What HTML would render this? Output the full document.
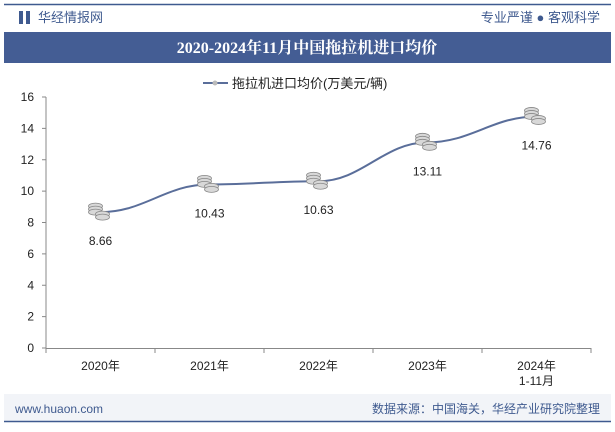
<!DOCTYPE html>
<html><head><meta charset="utf-8"><style>
body{margin:0;width:615px;height:427px;background:#fff;overflow:hidden;font-family:"Liberation Sans","Noto Sans CJK SC",sans-serif}
</style></head><body>
<svg width="615" height="427" xmlns="http://www.w3.org/2000/svg">
<line x1="4" y1="4.5" x2="611" y2="4.5" stroke="#3f5a8f" stroke-width="1.5"/>
<rect x="19" y="11" width="4" height="13" fill="#3f5a8f"/>
<rect x="26" y="11" width="4" height="13" fill="#3f5a8f"/>
<text x="38" y="22" font-size="13" fill="#3f5a8f">华经情报网</text>
<text x="600" y="22" font-size="13" fill="#3f5a8f" text-anchor="end">专业严谨 ● 客观科学</text>
<rect x="4" y="32" width="607" height="31" fill="#445d94"/>
<text x="307" y="53" font-size="16" font-weight="bold" fill="#fff" text-anchor="middle" font-family="Liberation Serif,Noto Serif CJK SC,serif">2020-2024年11月中国拖拉机进口均价</text>
<g>
<line x1="203" y1="83" x2="228" y2="83" stroke="#5a6e9a" stroke-width="2"/>
<circle cx="215" cy="83" r="2.5" fill="#bbb"/>
<text x="232" y="88" font-size="13" fill="#222">拖拉机进口均价(万美元/辆)</text>
</g>
<g id="axes"></g><g id="marks"></g>
<rect x="4" y="394" width="607" height="27" fill="#f2f4f8"/>
<line x1="4" y1="421.5" x2="611" y2="421.5" stroke="#3f5a8f" stroke-width="1.5"/>
<text x="15" y="413" font-size="12" fill="#3f5a8f">www.huaon.com</text>
<text x="600" y="413" font-size="12" fill="#3f5a8f" text-anchor="end">数据来源：中国海关，华经产业研究院整理</text>
</svg>
<script>
const categories=["2020年","2021年","2022年","2023年","2024年"];
const sub=["","","","","1-11月"];
const values=[8.66,10.43,10.63,13.11,14.76];
const yTicks=[0,2,4,6,8,10,12,14,16];
const NS="http://www.w3.org/2000/svg";
const x0=46,bw=109,y0=348,ys=(348-97)/16;
const X=i=>x0+bw*(i+0.5), Y=v=>y0-v*ys;
function mk(t,a,p){const e=document.createElementNS(NS,t);for(const k in a)e.setAttribute(k,a[k]);p.appendChild(e);return e;}
const ax=document.getElementById('axes'),mg=document.getElementById('marks');
const yl=mk('line',{x1:x0,y1:97,x2:x0,y2:y0,stroke:'#888'},ax);


const xl=mk('line',{x1:x0,y1:y0+.5,x2:x0+bw*5,y2:y0+.5,stroke:'#888'},ax);


yTicks.forEach(v=>{mk('line',{x1:x0-4,y1:Y(v),x2:x0,y2:Y(v),stroke:'#888'},ax);
const t=mk('text',{x:34,y:Y(v)+4,'font-size':12,fill:'#222','text-anchor':'end'},ax);t.textContent=v;

});
for(let i=0;i<=5;i++)mk('line',{x1:x0+bw*i,y1:y0,x2:x0+bw*i,y2:y0+5,stroke:'#888'},ax);
categories.forEach((c,i)=>{const t=mk('text',{x:X(i),y:370,'font-size':12,fill:'#222','text-anchor':'middle'},ax);t.textContent=c;


if(sub[i]){const s=mk('text',{x:X(i),y:385,'font-size':12,fill:'#222','text-anchor':'middle'},ax);s.textContent=sub[i];}});
let d='M'+X(0)+','+Y(values[0]);
for(let i=1;i<values.length;i++){const xa=X(i-1),xb=X(i),m=(xb-xa)*0.4;d+=` C${xa+m},${Y(values[i-1])} ${xb-m},${Y(values[i])} ${xb},${Y(values[i])}`;}
const p=mk('path',{d:d,fill:'none',stroke:'#5a6e9a','stroke-width':2},mg);


values.forEach((v,i)=>{const g=mk('g',{},mg);


const cx=X(i)-2,cy=Y(v);
[[-3,-6],[-3,-3],[-3,0],[4,2],[4,5]].forEach(o=>mk('ellipse',{cx:cx+o[0],cy:cy+o[1],rx:7,ry:3,fill:'#d8d8d8',stroke:'#888','stroke-width':.8},g));
const t=mk('text',{x:X(i),y:cy+33,'font-size':12,fill:'#222','text-anchor':'middle'},g);t.textContent=v.toFixed(2);
});
</script>
</body></html>
